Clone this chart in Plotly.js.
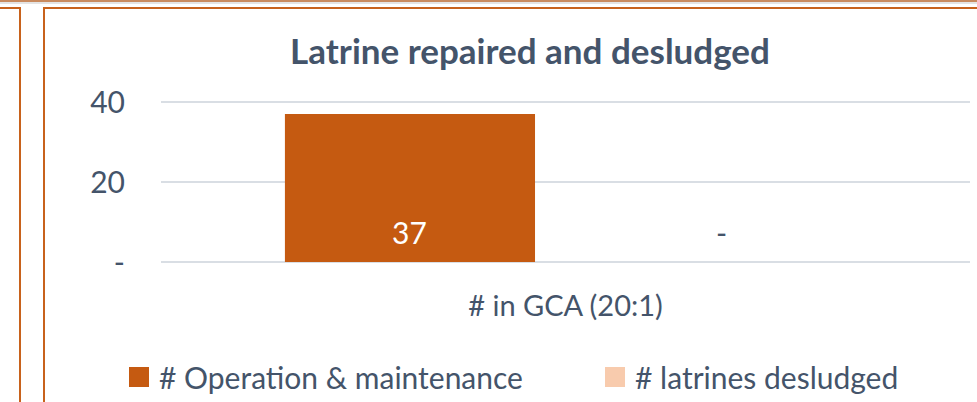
<!DOCTYPE html>
<html>
<head>
<meta charset="utf-8">
<script src="https://cdn.plot.ly/plotly-3.0.1.min.js"></script>
<style>
  html, body { margin:0; padding:0; background:#fff; }
  #wrap { position:relative; width:977px; height:402px; overflow:hidden; }
  #chart { position:absolute; left:0; top:0; width:977px; height:402px; }
  .ln { position:absolute; background:#C8621C; }
</style>
</head>
<body>
<div id="wrap">
  <div class="ln" style="left:0;top:0;width:977px;height:2px;background:#C98A5E;"></div>
  <div class="ln" style="left:0;top:2px;width:977px;height:2px;background:#E4E4E4;"></div>
  <div class="ln" style="left:0;top:7px;width:20px;height:2px;"></div>
  <div class="ln" style="left:19px;top:7px;width:2px;height:395px;"></div>
  <div class="ln" style="left:43px;top:7px;width:934px;height:2px;"></div>
  <div class="ln" style="left:43px;top:7px;width:2px;height:395px;"></div>
  <div id="chart"></div>
</div>
<script>
var categories = ["# in GCA (20:1)"];
var seriesNames = ["# Operation & maintenance", "# latrines desludged"];
var operationMaintenance = [37];
var latrinesDesludged = [0];
var yTickValues = [0, 20, 40];

var seriesColors = ["#C55A11", "#F8CBAD"];
var textColor = "#44546A";
var fontFamily = "Lato, 'Open Sans', sans-serif";

function fmt(v) { return v === 0 ? "-" : String(v); }

var margin = {l:161, r:7, t:100, b:138};
var bargap = 0.231, bargroupgap = 0.196;
var plotW = 977 - margin.l - margin.r;

var traces = [
  {type:"bar", name:seriesNames[0], x:categories, y:operationMaintenance,
   marker:{color:seriesColors[0]}, hoverinfo:"none", legend:"legend"},
  {type:"bar", name:seriesNames[1], x:categories, y:latrinesDesludged,
   marker:{color:seriesColors[1]}, hoverinfo:"none", legend:"legend2"}
];

var slot = plotW * (1 - bargap) / 2;
var annotations = [];
[operationMaintenance, latrinesDesludged].forEach(function(vals, si){
  vals.forEach(function(v, i){
    annotations.push({
      x: categories[i], y: 0, xref:"x", yref:"y",
      text: fmt(v), showarrow:false,
      xshift: (si === 0 ? -1 : 1) * slot / 2,
      yshift: 30, yanchor:"middle", xanchor:"center",
      font:{family:fontFamily, size:30, color: (v > 0 ? "#FFFFFF" : textColor)}
    });
  });
});

function legendAt(px) {
  return {orientation:"h", xref:"container", yref:"container",
          x: px/977, xanchor:"left", y: 1 - 377/402, yanchor:"middle",
          font:{family:fontFamily, size:30, color:textColor},
          bgcolor:"rgba(0,0,0,0)", borderwidth:0};
}

var layout = {
  width:977, height:402,
  margin: margin,
  paper_bgcolor:"rgba(0,0,0,0)", plot_bgcolor:"rgba(0,0,0,0)",
  barmode:"group", bargap:bargap, bargroupgap:bargroupgap,
  title:{text:"Latrine repaired and desludged", x:0.5425, xref:"container", xanchor:"center",
         y:1 - 52/402, yref:"container", yanchor:"middle",
         font:{family:fontFamily, size:35, color:textColor, weight:"bold"}},
  font:{family:fontFamily, color:textColor},
  xaxis:{type:"category", showgrid:false, zeroline:false, showline:false, ticks:"",
         tickfont:{family:fontFamily, size:29, color:textColor}, ticklabelstandoff:22},
  yaxis:{range:[-0.5,40.5], tickvals:yTickValues, ticktext:yTickValues.map(fmt),
         showgrid:true, gridcolor:"#D9DEE4", gridwidth:2, zeroline:false, showline:false, ticks:"",
         tickfont:{family:fontFamily, size:30, color:textColor}, ticklabelstandoff:35},
  showlegend:true,
  legend: legendAt(119),
  legend2: legendAt(595),
  annotations: annotations
};

Plotly.newPlot("chart", traces, layout, {staticPlot:true, displayModeBar:false}).then(function(gd){
  var paths = gd.querySelectorAll(".legendpoints path");
  paths.forEach(function(p){ p.setAttribute("d", "M10,10H-10V-10H10Z"); p.style.strokeWidth = "0"; });
});
</script>
</body>
</html>
